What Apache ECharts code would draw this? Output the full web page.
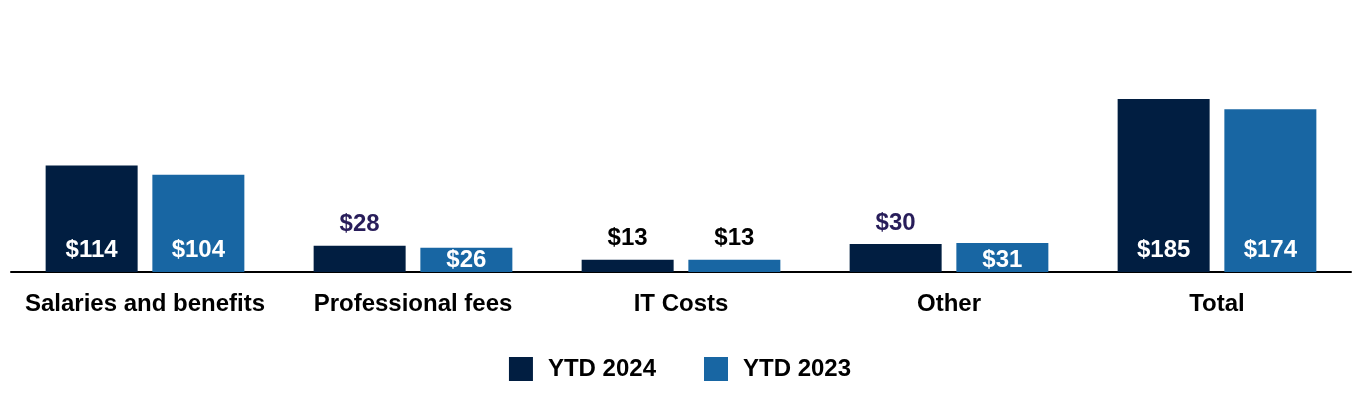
<!DOCTYPE html>
<html><head><meta charset="utf-8">
<script src="https://cdn.jsdelivr.net/npm/echarts@6/dist/echarts.min.js"></script>
<style>html,body{margin:0;padding:0;background:#fff}#c{width:1360px;height:400px}</style>
</head><body><div id="c"></div>
<script>
const categories = ["Salaries and benefits", "Professional fees", "IT Costs", "Other", "Total"];
const ytd2024 = [114, 28, 13, 30, 185];
const ytd2023 = [104, 26, 13, 31, 174];
const seriesNames = ["YTD 2024", "YTD 2023"];

const FONT = '"Liberation Sans", Arial, sans-serif';
const navy = '#011e41', blue = '#1866a3';

// label placement per bar (inside bottom white unless the bar is too short)
function labelFor(seriesIdx, i) {
  const above2024 = { 1: '#281d5a', 2: '#000000', 3: '#281d5a' };
  const above2023 = { 2: '#000000' };
  const m = seriesIdx === 0 ? above2024 : above2023;
  if (m[i] !== undefined) {
    return { show: true, position: 'top', distance: 9, color: m[i] };
  }
  return { show: true, position: 'insideBottom', distance: i === 1 || i === 3 ? 0 : 10, color: '#ffffff' };
}
function build(vals, s) {
  return vals.map((v, i) => ({ value: v, label: labelFor(s, i) }));
}

const chart = echarts.init(document.getElementById('c'), null, { renderer: 'canvas' });
chart.setOption({
  animation: false,
  textStyle: { fontFamily: FONT },
  grid: { left: 11, right: 9, top: 85, bottom: 128, containLabel: false },
  legend: {
    bottom: 14, left: 'center',
    itemWidth: 24, itemHeight: 24, itemGap: 48,
    icon: 'rect',
    textStyle: { fontFamily: FONT, fontSize: 24, fontWeight: 'bold', color: '#000', padding: [0, 0, 0, 10] },
    data: seriesNames
  },
  xAxis: {
    type: 'category', data: categories,
    axisTick: { show: false },
    axisLine: { lineStyle: { color: '#000', width: 2 } },
    axisLabel: { interval: 0, fontFamily: FONT, fontSize: 24, fontWeight: 'bold', color: '#000', margin: 20 }
  },
  yAxis: { type: 'value', min: 0, max: 200, show: false, splitLine: { show: false } },
  series: [
    {
      name: seriesNames[0], type: 'bar', data: build(ytd2024, 0),
      itemStyle: { color: navy }, barWidth: 92, barGap: '16%',
      label: { fontFamily: FONT, fontSize: 24, fontWeight: 'bold', formatter: p => '$' + p.value }
    },
    {
      name: seriesNames[1], type: 'bar', data: build(ytd2023, 1),
      itemStyle: { color: blue }, barWidth: 92,
      label: { fontFamily: FONT, fontSize: 24, fontWeight: 'bold', formatter: p => '$' + p.value }
    }
  ]
});
</script></body></html>
